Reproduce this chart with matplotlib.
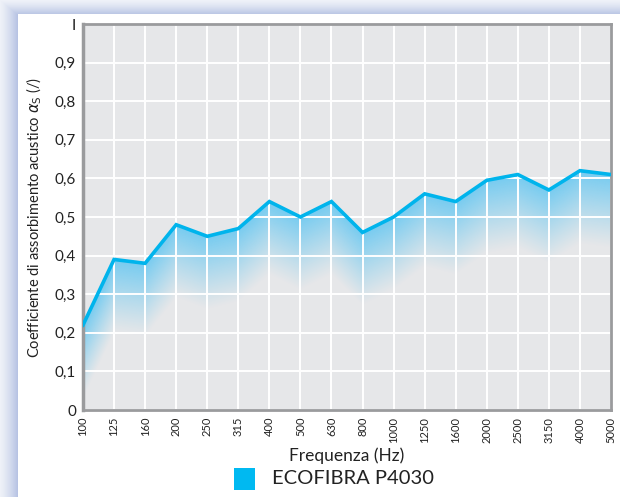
import numpy as np
import matplotlib
matplotlib.use("Agg")
import matplotlib.pyplot as plt
from matplotlib.patches import Rectangle
from matplotlib.colors import to_rgb

matplotlib.rcParams['font.family'] = ["Lato", "DejaVu Sans"]

freqs = ["100", "125", "160", "200", "250", "315", "400", "500", "630", "800",
         "1000", "1250", "1600", "2000", "2500", "3150", "4000", "5000"]
alpha_s = [0.22, 0.39, 0.38, 0.48, 0.45, 0.47, 0.54, 0.50, 0.54, 0.46,
           0.50, 0.56, 0.54, 0.595, 0.61, 0.57, 0.62, 0.61]
yticks = [0, 0.1, 0.2, 0.3, 0.4, 0.5, 0.6, 0.7, 0.8, 0.9, 1]
ylabels = ["0", "0,1", "0,2", "0,3", "0,4", "0,5", "0,6", "0,7", "0,8", "0,9", "I"]

blue = "#00b4ec"
W, H = 620, 497

fig = plt.figure(figsize=(6.2, 4.97), dpi=100)

# backdrop: bluish frame on top/left, white panel
bg = fig.add_axes([0, 0, 1, 1])
bg.set_xlim(0, W)
bg.set_ylim(H, 0)
bg.axis("off")
yy, xx = np.mgrid[0:H, 0:W]
shade = np.clip(np.minimum(xx / 18.0, yy / 15.0), 0, 1)
c_lo = np.array(to_rgb("#eef1f8"))
c_hi = np.array(to_rgb("#b3c0e2"))
img = c_lo + (c_hi - c_lo) * shade[..., None] ** 1.3
bg.imshow(img, extent=[0, W, H, 0], aspect="auto", zorder=0)
bg.add_patch(Rectangle((18, 14), W - 18, H - 14, facecolor="white", edgecolor="none", zorder=1))

ax = fig.add_axes([83 / W, 1 - 410 / H, (611 - 83) / W, (410 - 24) / H])
ax.set_facecolor("#e6e7e9")
x = np.arange(len(freqs))
y = np.array(alpha_s)

ax.set_xlim(0, len(freqs) - 1)
ax.set_ylim(0, 1)

# gradient under the line
gx = np.linspace(0, len(freqs) - 1, 600)
gy = np.linspace(0, 1, 400)
GX, GY = np.meshgrid(gx, gy)
line_at = np.interp(GX, x, y)
depth = (line_at - GY) / 0.19
a = np.clip(1 - depth, 0, 1) ** 1.1
a[GY > line_at] = 0
grad = np.zeros(GX.shape + (4,))
grad[..., :3] = to_rgb("#70caf1")
grad[..., 3] = a * 0.95
ax.imshow(grad, extent=[0, len(freqs) - 1, 0, 1], origin="lower", aspect="auto", zorder=1)

ax.set_xticks(x)
ax.set_xticklabels(freqs, rotation=90, fontsize=8, color="#222222")
ax.set_yticks(yticks)
ax.set_yticklabels(ylabels, fontsize=11, color="#222222")
ax.tick_params(length=0, pad=5)
ax.grid(color="white", linewidth=1.4, zorder=2)
for g in ax.get_xgridlines() + ax.get_ygridlines():
    g.set_zorder(2)

ax.plot(x, y, color=blue, linewidth=2.6, zorder=3, solid_joinstyle="miter")

for s in ax.spines.values():
    s.set_color("#9a9b9d")
    s.set_linewidth(2)
ax.spines["left"].set_linewidth(2.5)

ax.set_xlabel("Frequenza (Hz)", fontsize=12.5, color="#222222", labelpad=3)
ax.set_ylabel(r"Coefficiente di assorbimento acustico $\alpha_{\mathrm{S}}$ (/)",
              fontsize=10.5, color="#222222", labelpad=8)

# legend
bg.add_patch(Rectangle((234, 468), 21, 22, facecolor="#00b9f1", edgecolor="none", zorder=2))
bg.text(272, 479, "ECOFIBRA P4030", fontsize=14.5, color="#222222", va="center", ha="left", zorder=2)

plt.savefig("out.png", dpi=100)
